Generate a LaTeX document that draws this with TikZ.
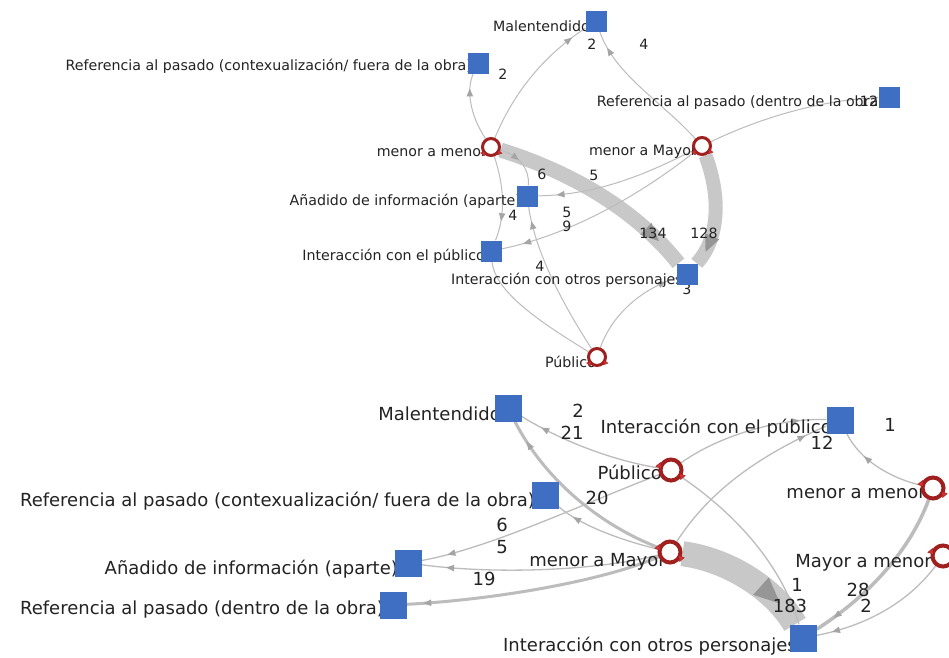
\documentclass[tikz,border=0pt]{standalone}
\usepackage{fontspec}
\setmainfont{DejaVu Sans}
\usetikzlibrary{decorations.markings,shapes.geometric}

\definecolor{sqblue}{RGB}{62,111,195}
\definecolor{ringred}{RGB}{160,32,32}
\definecolor{ringtip}{RGB}{210,50,50}
\definecolor{edgegray}{RGB}{188,188,188}
\definecolor{tipgray}{RGB}{165,165,165}
\definecolor{bandgray}{RGB}{200,200,200}
\definecolor{bandtip}{RGB}{150,150,150}
\definecolor{txt}{RGB}{35,35,35}

\newcommand\smalllab{\fontsize{14.2}{16}\selectfont}
\newcommand\biglab{\fontsize{18}{21}\selectfont}

\pgfdeclarelayer{bg}
\pgfdeclarelayer{edges}
\pgfdeclarelayer{labels}
\pgfsetlayers{bg,edges,labels,main}

\tikzset{
  sqtop/.style={rectangle, fill=sqblue, minimum size=21pt, inner sep=0pt},
  sqbot/.style={rectangle, fill=sqblue, minimum size=27pt, inner sep=0pt},
  actortop/.style={circle, draw=ringred, fill=white, line width=3pt, minimum size=17pt, inner sep=0pt},
  actorbot/.style={circle, draw=ringred, fill=white, line width=4pt, minimum size=21pt, inner sep=0pt},
  ringtick/.style={regular polygon, regular polygon sides=3, fill=ringtip, draw=ringred,
      line width=0.4pt, inner sep=0pt, minimum size=#1},
  ringtick/.default=5.5pt,
  link/.style={draw=edgegray, line width=#1},
  link/.default=1pt,
  tipat/.style={postaction={decorate, decoration={markings,
      mark=at position #1 with {\fill[tipgray] (4pt,0pt) -- (-4pt,3.3pt) -- (-4pt,-3.3pt) -- cycle;}}}},
  band/.style={draw=bandgray, line width=#1},
  bandtipat/.style 2 args={postaction={decorate, decoration={markings,
      mark=at position #1 with {\fill[bandtip] (#2,0pt) -- (-#2,0.9*#2) -- (-#2,-0.9*#2) -- cycle;}}}},
  toplab/.style={anchor=base east, inner sep=0pt, font=\smalllab, text=txt},
  botlab/.style={anchor=base east, inner sep=0pt, font=\biglab, text=txt},
  topnum/.style={inner sep=0pt, font=\smalllab, text=txt},
  botnum/.style={inner sep=0pt, font=\biglab, text=txt},
}

\begin{document}
\begin{tikzpicture}[x=1pt, y=-1pt]
\useasboundingbox (0,0) rectangle (949,657);
\begin{pgfonlayer}{bg}
  \fill[white] (0,0) rectangle (949,657);
\end{pgfonlayer}

% ---------- upper network: actors and codes ----------
\node[sqtop] (tMal)  at (596,21)  {};
\node[sqtop] (tRefC) at (478,63)  {};
\node[sqtop] (tRefD) at (889,97)  {};
\node[sqtop] (tAn)   at (527,196) {};
\node[sqtop] (tIP)   at (491,251) {};
\node[sqtop] (tIO)   at (687,274) {};
\node[actortop] (tmm)  at (491,147) {};
\node[actortop] (tmM)  at (702,146) {};
\node[actortop] (tPub) at (597,357) {};
% loop ticks on the actor rings
\foreach \a in {tmm,tmM,tPub}{
  \node[ringtick, rotate=20]  (\a-tickA) at (\a.-35)  {};
  \node[ringtick, rotate=200] (\a-tickB) at (\a.-140) {};
}

\begin{pgfonlayer}{edges}
  % heavy ties
  \path[band=15pt, bandtipat={0.82}{9pt}] (tmm) .. controls (580,175) and (640,215) .. (tIO);
  \path[band=14pt, bandtipat={0.8}{8.5pt}] (tmM) .. controls (722,200) and (718,240) .. (tIO);
  % light ties
  \path[link, tipat=0.72] (tmm) .. controls (470,115) and (466,90) .. (tRefC);
  \path[link, tipat=0.86] (tmm) .. controls (515,90) and (545,55) .. (tMal);
  \path[link, tipat=0.85] (tmM) .. controls (660,100) and (615,75) .. (tMal);
  \path[link] (tmM) .. controls (760,118) and (820,100) .. (tRefD);
  \path[link, tipat=0.86] (tmM) .. controls (650,172) and (600,195) .. (tAn);
  \path[link, tipat=0.88] (tmM) .. controls (640,195) and (570,235) .. (tIP);
  \path[link, tipat=0.35] (tmm) .. controls (520,156) and (530,170) .. (tAn);
  \path[link, tipat=0.72] (tmm) .. controls (504,185) and (506,215) .. (tIP);
  \path[link] (tPub) .. controls (540,322) and (495,292) .. (tIP);
  \path[link, tipat=0.88] (tPub) .. controls (560,300) and (535,250) .. (tAn);
  \path[link, tipat=0.86] (tPub) .. controls (612,315) and (640,290) .. (tIO);
\end{pgfonlayer}

\begin{pgfonlayer}{labels}
  \node[toplab] (tMalL)  at (590,31)  {Malentendido};
  \node[toplab] (tRefCL) at (472,70)  {Referencia al pasado (contexualización/ fuera de la obra)};
  \node[toplab] (tRefDL) at (884,106) {Referencia al pasado (dentro de la obra)};
  \node[toplab] (tmmL)   at (487,156) {menor a menor};
  \node[toplab] (tmML)   at (697,155) {menor a Mayor};
  \node[toplab] (tAnL)   at (521,205) {Añadido de información (aparte)};
  \node[toplab] (tIPL)   at (485,260) {Interacción con el público};
  \node[toplab] (tIOL)   at (683,284) {Interacción con otros personajes};
  \node[toplab] (tPubL)  at (596,367) {Público};
  \node[topnum] (tn1)  at (592,44)  {2};
  \node[topnum] (tn2)  at (644,44)  {4};
  \node[topnum] (tn3)  at (503,74)  {2};
  \node[topnum] (tn4)  at (869,101) {12};
  \node[topnum] (tn5)  at (542,174) {6};
  \node[topnum] (tn6)  at (594,175) {5};
  \node[topnum] (tn7)  at (513,215) {4};
  \node[topnum] (tn8)  at (567,212) {5};
  \node[topnum] (tn9)  at (567,226) {9};
  \node[topnum] (tn10) at (653,233) {134};
  \node[topnum] (tn11) at (704,233) {128};
  \node[topnum] (tn12) at (540,266) {4};
  \node[topnum] (tn13) at (687,289) {3};
\end{pgfonlayer}

% ---------- lower network: actors and codes ----------
\node[sqbot] (bMal)  at (508,408) {};
\node[sqbot] (bIP)   at (840,420) {};
\node[sqbot] (bRefC) at (545,495) {};
\node[sqbot] (bAn)   at (408,563) {};
\node[sqbot] (bRefD) at (393,605) {};
\node[sqbot] (bIO)   at (803,638) {};
\node[actorbot] (bPub) at (671,470) {};
\node[actorbot] (bmm)  at (933,488) {};
\node[actorbot] (bmM)  at (670,552) {};
\node[actorbot] (bMm)  at (943,556) {};
\foreach \a in {bPub,bmm,bmM,bMm}{
  \node[ringtick=7pt, rotate=40]  (\a-tickA) at (\a.-30) {};
  \node[ringtick=7pt, rotate=220] (\a-tickB) at (\a.160) {};
}

\begin{pgfonlayer}{edges}
  % heavy tie
  \path[band=25pt, bandtipat={0.72}{13pt}] (bmM) .. controls (730,560) and (775,590) .. (bIO);
  % medium ties
  \path[link=3pt, tipat=0.86] (bmM) .. controls (600,525) and (545,480) .. (bMal);
  \path[link=3pt, tipat=0.92] (bmM) .. controls (600,582) and (490,600) .. (bRefD);
  \path[link=3.5pt, tipat=0.86] (bmm) .. controls (910,550) and (870,595) .. (bIO);
  % light ties
  \path[link=1.3pt, tipat=0.82] (bPub) .. controls (610,460) and (560,440) .. (bMal);
  \path[link=1.3pt, tipat=0.8] (bmM) .. controls (620,540) and (580,525) .. (bRefC);
  \path[link=1.3pt, tipat=0.88] (bPub) .. controls (580,505) and (490,548) .. (bAn);
  \path[link=1.3pt, tipat=0.88] (bmM) .. controls (600,570) and (500,575) .. (bAn);
  \path[link=1.3pt] (bPub) .. controls (730,510) and (780,560) .. (bIO);
  \path[link=1.3pt, tipat=0.86] (bmM) .. controls (710,490) and (760,455) .. (bIP);
  \path[link=1.3pt, tipat=0.8] (bPub) .. controls (720,435) and (780,418) .. (bIP);
  \path[link=1.3pt, tipat=0.65] (bmm) .. controls (890,478) and (860,460) .. (bIP);
  \path[link=1.3pt, tipat=0.86] (bMm) .. controls (910,600) and (870,625) .. (bIO);
\end{pgfonlayer}

\begin{pgfonlayer}{labels}
  \node[botlab] (bMalL)  at (501,420) {Malentendido};
  \node[botlab] (bIPL)   at (832,433) {Interacción con el público};
  \node[botlab] (bPubL)  at (662,479) {Público};
  \node[botlab] (bRefCL) at (535,506) {Referencia al pasado (contexualización/ fuera de la obra)};
  \node[botlab] (bmmL)   at (926,498) {menor a menor};
  \node[botlab] (bAnL)   at (398,574) {Añadido de información (aparte)};
  \node[botlab] (bmML)   at (666,566) {menor a Mayor};
  \node[botlab] (bMmL)   at (932,567) {Mayor a menor};
  \node[botlab] (bRefDL) at (384,614) {Referencia al pasado (dentro de la obra)};
  \node[botlab] (bIOL)   at (797,651) {Interacción con otros personajes};
  \node[botnum] (bn1)  at (578,411) {2};
  \node[botnum] (bn2)  at (572,433) {21};
  \node[botnum] (bn3)  at (822,443) {12};
  \node[botnum] (bn4)  at (890,425) {1};
  \node[botnum] (bn5)  at (597,498) {20};
  \node[botnum] (bn6)  at (502,525) {6};
  \node[botnum] (bn7)  at (502,547) {5};
  \node[botnum] (bn8)  at (484,579) {19};
  \node[botnum] (bn9)  at (797,585) {1};
  \node[botnum] (bn10) at (790,606) {183};
  \node[botnum] (bn11) at (858,590) {28};
  \node[botnum] (bn12) at (866,606) {2};
\end{pgfonlayer}
\end{tikzpicture}
\end{document}
